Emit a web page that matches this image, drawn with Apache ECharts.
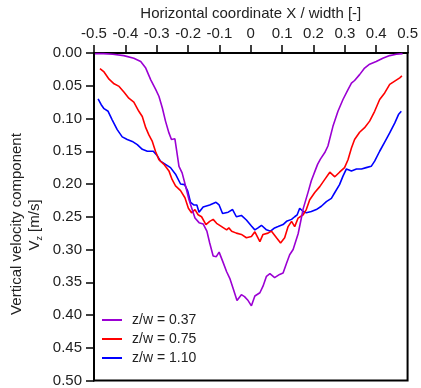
<!DOCTYPE html>
<html>
<head>
<meta charset="utf-8">
<script src="https://cdn.jsdelivr.net/npm/echarts@6/dist/echarts.min.js"></script>
<style>
  html, body { margin: 0; padding: 0; background: #fff; }
  #chart { width: 421px; height: 388px; }
</style>
</head>
<body>
<div id="chart"></div>
<script>
// Horizontal coordinate X / width for each profile, and the matching vertical velocity Vz [m/s]
const xProfile037 = [-0.497, -0.47, -0.44, -0.405, -0.373, -0.351, -0.335, -0.319, -0.303, -0.293, -0.282, -0.272, -0.261, -0.253, -0.242, -0.237, -0.229, -0.219, -0.208, -0.197, -0.189, -0.178, -0.165, -0.152, -0.140, -0.131, -0.120, -0.110, -0.101, -0.088, -0.077, -0.067, -0.056, -0.044, -0.030, -0.020, -0.010, 0.002, 0.013, 0.029, 0.039, 0.050, 0.061, 0.076, 0.092, 0.103, 0.114, 0.124, 0.135, 0.151, 0.160, 0.167, 0.175, 0.183, 0.193, 0.205, 0.213, 0.222, 0.236, 0.246, 0.262, 0.278, 0.294, 0.310, 0.321, 0.331, 0.347, 0.363, 0.379, 0.400, 0.421, 0.443, 0.464, 0.484];
const vzProfile037 = [0.001, 0.001, 0.002, 0.004, 0.008, 0.013, 0.023, 0.041, 0.056, 0.066, 0.084, 0.104, 0.122, 0.132, 0.131, 0.147, 0.173, 0.183, 0.203, 0.224, 0.236, 0.252, 0.259, 0.261, 0.272, 0.290, 0.310, 0.311, 0.304, 0.320, 0.334, 0.344, 0.360, 0.378, 0.369, 0.372, 0.377, 0.386, 0.371, 0.366, 0.356, 0.341, 0.337, 0.343, 0.338, 0.336, 0.321, 0.308, 0.300, 0.276, 0.255, 0.238, 0.225, 0.212, 0.195, 0.180, 0.170, 0.162, 0.152, 0.142, 0.112, 0.089, 0.071, 0.056, 0.046, 0.042, 0.033, 0.023, 0.017, 0.013, 0.008, 0.004, 0.002, 0.001];

const xProfile075 = [-0.481, -0.468, -0.452, -0.436, -0.420, -0.404, -0.389, -0.373, -0.357, -0.346, -0.335, -0.325, -0.314, -0.304, -0.293, -0.277, -0.261, -0.251, -0.240, -0.224, -0.210, -0.199, -0.189, -0.178, -0.168, -0.157, -0.143, -0.131, -0.120, -0.109, -0.093, -0.077, -0.070, -0.061, -0.046, -0.030, -0.014, 0.002, 0.013, 0.029, 0.039, 0.055, 0.066, 0.082, 0.095, 0.108, 0.119, 0.130, 0.140, 0.151, 0.167, 0.177, 0.188, 0.204, 0.220, 0.236, 0.252, 0.268, 0.283, 0.299, 0.310, 0.321, 0.331, 0.347, 0.363, 0.379, 0.395, 0.411, 0.427, 0.443, 0.459, 0.475, 0.482];
const vzProfile075 = [0.024, 0.029, 0.040, 0.047, 0.051, 0.060, 0.069, 0.075, 0.089, 0.097, 0.114, 0.125, 0.135, 0.150, 0.163, 0.170, 0.180, 0.193, 0.203, 0.210, 0.221, 0.237, 0.244, 0.239, 0.247, 0.250, 0.262, 0.257, 0.254, 0.260, 0.265, 0.270, 0.267, 0.272, 0.275, 0.277, 0.282, 0.280, 0.273, 0.288, 0.277, 0.275, 0.272, 0.282, 0.290, 0.282, 0.265, 0.257, 0.265, 0.252, 0.247, 0.239, 0.224, 0.213, 0.204, 0.193, 0.182, 0.189, 0.182, 0.175, 0.163, 0.145, 0.132, 0.121, 0.114, 0.104, 0.089, 0.071, 0.061, 0.048, 0.043, 0.038, 0.035];

const xProfile110 = [-0.487, -0.477, -0.468, -0.455, -0.442, -0.426, -0.410, -0.394, -0.378, -0.362, -0.346, -0.330, -0.311, -0.298, -0.288, -0.272, -0.256, -0.240, -0.224, -0.211, -0.201, -0.192, -0.182, -0.172, -0.165, -0.152, -0.131, -0.111, -0.101, -0.090, -0.072, -0.058, -0.046, -0.030, -0.014, 0.002, 0.013, 0.023, 0.034, 0.050, 0.063, 0.076, 0.087, 0.103, 0.114, 0.130, 0.140, 0.148, 0.156, 0.167, 0.177, 0.193, 0.209, 0.225, 0.241, 0.257, 0.268, 0.283, 0.294, 0.305, 0.321, 0.337, 0.353, 0.368, 0.384, 0.395, 0.411, 0.427, 0.443, 0.459, 0.471, 0.480];
const vzProfile110 = [0.070, 0.079, 0.085, 0.089, 0.102, 0.117, 0.128, 0.132, 0.135, 0.140, 0.147, 0.150, 0.150, 0.157, 0.165, 0.170, 0.175, 0.185, 0.200, 0.201, 0.211, 0.228, 0.232, 0.232, 0.243, 0.235, 0.232, 0.228, 0.232, 0.245, 0.243, 0.239, 0.250, 0.248, 0.255, 0.264, 0.270, 0.267, 0.263, 0.270, 0.272, 0.267, 0.265, 0.262, 0.257, 0.254, 0.250, 0.247, 0.237, 0.242, 0.244, 0.242, 0.239, 0.234, 0.227, 0.222, 0.213, 0.201, 0.188, 0.177, 0.180, 0.177, 0.177, 0.175, 0.173, 0.165, 0.150, 0.136, 0.122, 0.107, 0.094, 0.089];

const seriesNames = ['z/w = 0.37', 'z/w = 0.75', 'z/w = 1.10'];
const seriesColors = ['#9b00d3', '#ff0000', '#0000ff'];
const xTickLabels = ['-0.5', '-0.4', '-0.3', '-0.2', '-0.1', '0', '0.1', '0.2', '0.3', '0.4', '0.5'];
const yTickLabels = ['0.00', '0.05', '0.10', '0.15', '0.20', '0.25', '0.30', '0.35', '0.40', '0.45', '0.50'];

const pair = (xs, ys) => xs.map((x, i) => [x, ys[i]]);
const profiles = [
  pair(xProfile037, vzProfile037),
  pair(xProfile075, vzProfile075),
  pair(xProfile110, vzProfile110)
];

const FONT = '"Liberation Sans", Arial, sans-serif';
const chart = echarts.init(document.getElementById('chart'), null, { renderer: 'canvas' });

chart.setOption({
  animation: false,
  backgroundColor: '#fff',
  textStyle: { fontFamily: FONT },
  grid: {
    left: 94, top: 53, right: 13, bottom: 7,
    show: true, borderColor: '#000', borderWidth: 2, backgroundColor: 'transparent'
  },
  legend: {
    orient: 'vertical',
    left: 102, top: 313,
    padding: 0,
    itemGap: 5,
    itemWidth: 20, itemHeight: 2,
    icon: 'rect',
    data: seriesNames,
    textStyle: { fontFamily: FONT, fontSize: 14, color: '#222', lineHeight: 14, padding: [0, 0, 0, 5] }
  },
  xAxis: {
    type: 'value',
    position: 'top',
    min: -0.5, max: 0.5, interval: 0.1,
    name: 'Horizontal coordinate X / width [-]',
    nameLocation: 'middle',
    nameGap: 27,
    nameTextStyle: { fontFamily: FONT, fontSize: 15, color: '#222' },
    axisLine: { onZero: false, lineStyle: { color: '#000', width: 2 } },
    axisTick: { inside: false, length: 8, lineStyle: { color: '#000', width: 1.5 } },
    axisLabel: {
      margin: 12, fontFamily: FONT, fontSize: 15, color: '#222',
      formatter: v => xTickLabels[Math.round((v + 0.5) * 10)]
    },
    splitLine: { show: false }
  },
  yAxis: {
    type: 'value',
    inverse: true,
    min: 0, max: 0.5, interval: 0.05,
    axisLine: { onZero: false, lineStyle: { color: '#000', width: 2 } },
    axisTick: { inside: false, length: 8, lineStyle: { color: '#000', width: 1.5 } },
    axisLabel: {
      margin: 12, fontFamily: FONT, fontSize: 15, color: '#222',
      formatter: v => yTickLabels[Math.round(v * 20)]
    },
    splitLine: { show: false }
  },
  graphic: [
    {
      type: 'text', x: 17, y: 224, rotation: Math.PI / 2,
      style: {
        text: 'Vertical velocity component',
        font: '15px ' + FONT, fill: '#222', align: 'center', verticalAlign: 'middle'
      }
    },
    {
      type: 'text', x: 35, y: 225, rotation: Math.PI / 2,
      style: {
        text: '{n|V}{s|z}{n| [m/s]}',
        align: 'center', verticalAlign: 'middle', fill: '#222',
        rich: {
          n: { fontFamily: FONT, fontSize: 15, lineHeight: 18, verticalAlign: 'middle', fill: '#222' },
          s: { fontFamily: FONT, fontSize: 9, lineHeight: 18, verticalAlign: 'bottom', fill: '#222' }
        }
      }
    }
  ],
  series: profiles.map((data, i) => ({
    name: seriesNames[i],
    type: 'line',
    data: data,
    showSymbol: false,
    symbol: 'none',
    color: seriesColors[i],
    lineStyle: { color: seriesColors[i], width: 1.6 },
    z: 3 - i
  }))
});
</script>
</body>
</html>
